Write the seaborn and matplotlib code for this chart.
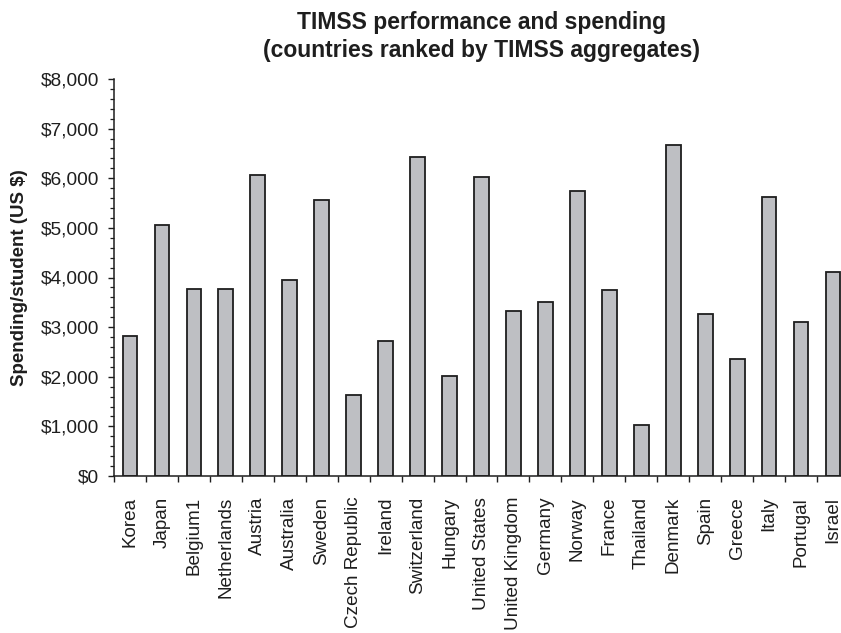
import matplotlib
matplotlib.use("Agg")
import matplotlib.pyplot as plt
from matplotlib.ticker import MultipleLocator, FuncFormatter
import seaborn as sns
import pandas as pd

countries = ["Korea", "Japan", "Belgium1", "Netherlands", "Austria", "Australia",
             "Sweden", "Czech Republic", "Ireland", "Switzerland", "Hungary",
             "United States", "United Kingdom", "Germany", "Norway", "France",
             "Thailand", "Denmark", "Spain", "Greece", "Italy", "Portugal", "Israel"]
spending = [2830, 5050, 3760, 3760, 6060, 3950, 5560, 1630, 2730, 6430, 2010,
            6030, 3330, 3510, 5740, 3740, 1030, 6680, 3270, 2350, 5620, 3100, 4110]

df = pd.DataFrame({"country": countries, "spending": spending})

sns.set_style("ticks")
plt.rcParams["font.family"] = ["Liberation Sans", "DejaVu Sans"]

fig = plt.figure(figsize=(8.41, 6.33), dpi=100)
W, H = 841, 633
ax = fig.add_axes([114 / W, 157 / H, 735 / W, 397 / H])

sns.barplot(data=df, x="country", y="spending", ax=ax, color="#bebfc3",
            edgecolor="#1e1e1e", linewidth=1.3, width=0.46, saturation=1)

ax.set_xlim(-0.5, len(countries) - 0.5)
ax.set_ylim(0, 8000)

ax.spines["top"].set_visible(False)
ax.spines["right"].set_visible(False)
for side in ("left", "bottom"):
    ax.spines[side].set_linewidth(1.1)
    ax.spines[side].set_color("#1e1e1e")

# y axis: dollar major ticks, minor ticks every $200
ax.yaxis.set_major_locator(MultipleLocator(1000))
ax.yaxis.set_minor_locator(MultipleLocator(200))
ax.yaxis.set_major_formatter(FuncFormatter(lambda v, p: f"${v:,.0f}"))
ax.tick_params(axis="y", which="major", direction="out", length=4.5, width=1.0,
               pad=6, labelsize=13.8, colors="#1e1e1e")
ax.tick_params(axis="y", which="minor", direction="out", length=3, width=0.9,
               color="#1e1e1e")

# x axis: tick marks between categories, labels at bar centres
ax.set_xticks(range(len(countries)))
ax.set_xticklabels(countries, rotation=90)
ax.set_xticks([i - 0.5 for i in range(len(countries) + 1)], minor=True)
ax.tick_params(axis="x", which="major", length=0, pad=15, labelsize=13.6,
               colors="#1e1e1e")
ax.tick_params(axis="x", which="minor", direction="out", length=4.5, width=1.0,
               color="#1e1e1e")

ax.set_xlabel("")
ax.set_ylabel("Spending/student (US $)", fontsize=13.5, fontweight="bold",
              color="#1e1e1e")
ax.yaxis.set_label_coords(-0.117, 0.5)

ax.set_title("TIMSS performance and spending\n(countries ranked by TIMSS aggregates)",
             fontsize=16.5, fontweight="bold", color="#1e1e1e", pad=16,
             linespacing=1.25)

fig.savefig("out.png", dpi=100)
